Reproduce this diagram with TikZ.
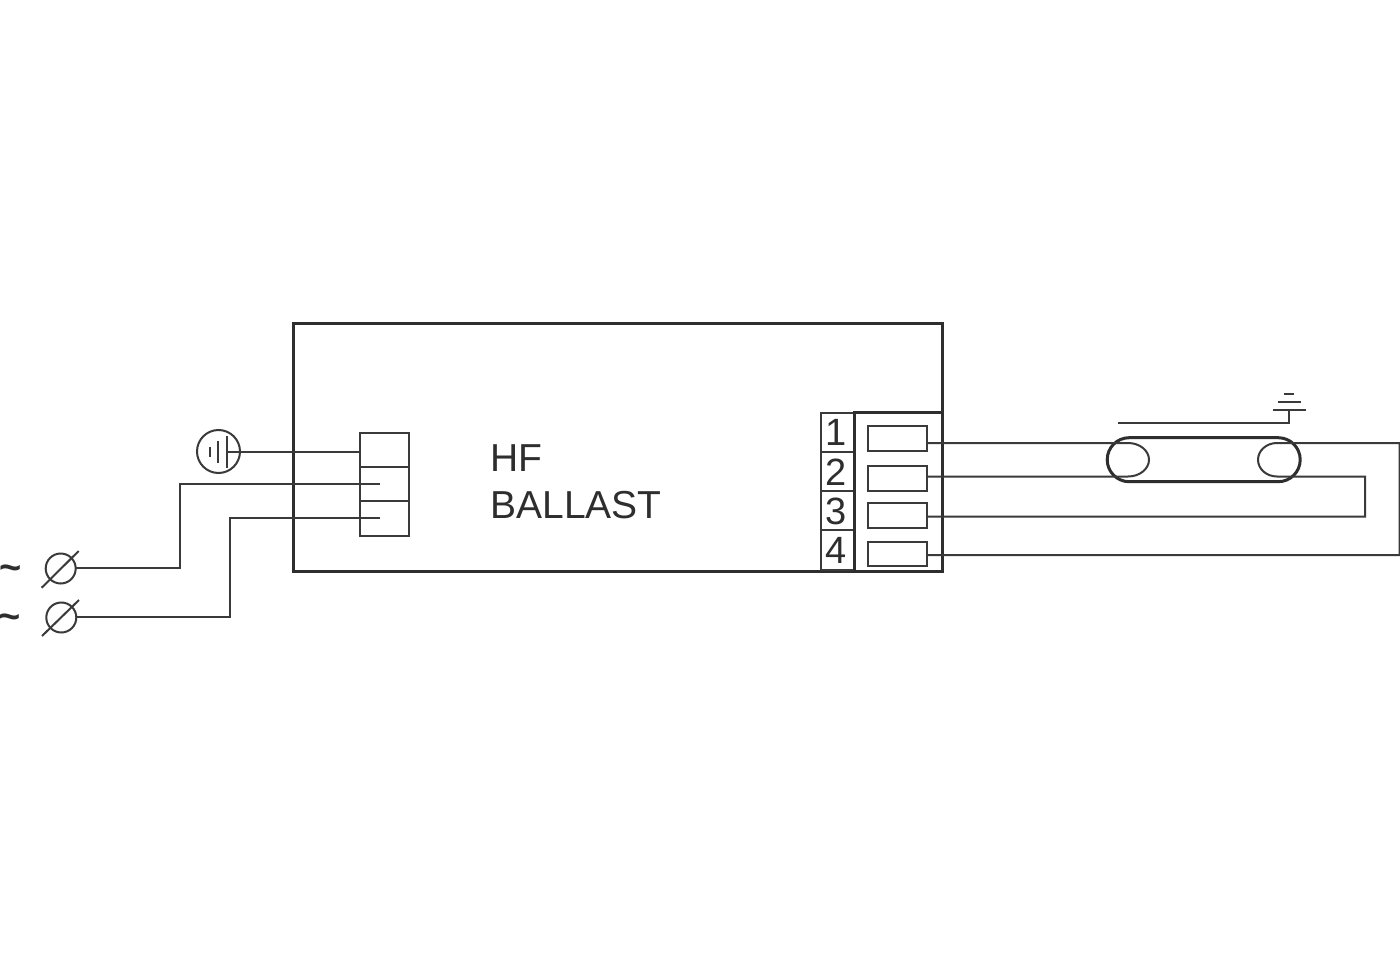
\documentclass[tikz,border=0pt]{standalone}
\usepackage{fontspec}
\setmainfont{Liberation Sans}
\definecolor{ink}{HTML}{3A3A3A}
\definecolor{heavy}{HTML}{2E2E2E}
\tikzset{
  box/.style={draw=ink,line width=2pt,rectangle,inner sep=0pt,outer sep=0pt},
  heavybox/.style={draw=heavy,line width=3pt,rectangle,inner sep=0pt,outer sep=0pt},
  wire/.style={draw=ink,line width=2pt,line join=miter},
  label/.style={text=heavy,inner sep=0pt,outer sep=0pt,anchor=base west,font=\fontsize{39}{39}\selectfont},
  digit/.style={text=heavy,inner sep=0pt,outer sep=0pt,anchor=center,font=\fontsize{38}{38}\selectfont},
  tildelabel/.style={text=heavy,inner sep=0pt,outer sep=0pt,anchor=center,font=\bfseries\fontsize{38}{38}\selectfont},
  round/.style={draw=ink,line width=2pt,circle,inner sep=0pt,outer sep=0pt},
}
\newcommand{\rbox}[6]{\node[#1,minimum width=#5pt-#3pt,minimum height=#6pt-#4pt] (#2) at ({(#3+#5)/2},{(#4+#6)/2}) {};}
\begin{document}
\begin{tikzpicture}[x=1pt,y=-1pt]
\useasboundingbox (0,0) rectangle (1400,960);
\fill[white] (0,0) rectangle (1400,960);

% ballast
\rbox{heavybox}{ballast}{293.5}{323.5}{942}{571}
\node[label] (hf) at (490.5,471) {HF};
\node[label] (bl) at (490.5,518) {BALLAST};

% mains block
\rbox{box}{ka}{360}{433}{409}{467}
\rbox{box}{kb}{360}{467}{409}{501}
\rbox{box}{kc}{360}{501}{409}{536}

% earth symbol
\node[round,minimum size=43pt] (earth) at (218.5,451.5) {};
\coordinate (eb1) at (226.5,436); \coordinate (eb2) at (226.5,467.5);
\coordinate (ec1) at (218,441);   \coordinate (ec2) at (218,463);
\coordinate (ed1) at (210,447);   \coordinate (ed2) at (210,457);
\coordinate (ein) at (226.5,451.7); \coordinate (eka) at (360,451.7);
\draw[wire] (eb1) -- (eb2);
\draw[wire] (ec1) -- (ec2);
\draw[wire] (ed1) -- (ed2);
\draw[wire] (ein) -- (eka);

% mains terminals
\node[round,minimum size=30pt] (la) at (60.7,568.5) {};
\node[round,minimum size=30pt] (lb) at (61.3,617.5) {};
\coordinate (sa1) at (41.7,587.7); \coordinate (sa2) at (78.7,551);
\coordinate (sb1) at (42,636);     \coordinate (sb2) at (79,600);
\draw[wire] (sa1) -- (sa2);
\draw[wire] (sb1) -- (sb2);
\node[tildelabel] (ta) at (11,573) {\textasciitilde};
\node[tildelabel] (tb) at (10,622) {\textasciitilde};
\coordinate (wa) at (380,484.3); \coordinate (wb) at (380,518.3);
\coordinate (ja) at (180,484.3); \coordinate (ka2) at (180,568.3);
\coordinate (jb) at (229.5,518.3); \coordinate (kb2) at (229.5,617.3);
\draw[wire] (wa) -- (ja) -- (ka2) -- (la.east |- ka2);
\draw[wire] (wb) -- (jb) -- (kb2) -- (lb.east |- kb2);

% output terminal block
\rbox{box}{n1}{821}{412.5}{854}{452}
\rbox{box}{n2}{821}{452}{854}{491}
\rbox{box}{n3}{821}{491}{854}{530}
\rbox{box}{n4}{821}{530}{854}{570}
\node[digit] (d1) at (836,432) {1};
\node[digit] (d2) at (836,472) {2};
\node[digit] (d3) at (836,511) {3};
\node[digit] (d4) at (836,550) {4};
\rbox{heavybox}{blk}{854}{412.5}{942}{571}
\rbox{box}{t1}{868}{425.5}{927}{450.5}
\rbox{box}{t2}{868}{466}{927}{491}
\rbox{box}{t3}{868}{503}{927}{527.5}
\rbox{box}{t4}{868}{542}{927}{566}

% lamp
\node[draw=heavy,line width=3pt,rectangle,rounded corners=22pt,inner sep=0pt,outer sep=0pt,minimum width=193pt,minimum height=44pt] (lamp) at (1203.7,459.7) {};
\coordinate (o1) at (927,443);   \coordinate (o2) at (927,476.5);
\coordinate (o3) at (927,516.7); \coordinate (o4) at (927,555);
\coordinate (fl1) at (1128,443); \coordinate (fl2) at (1128,476.5);
\coordinate (flm) at (1149,459.75);
\coordinate (fr1) at (1277,443); \coordinate (fr2) at (1277,476.5);
\coordinate (frm) at (1258,459.75);
\coordinate (rt) at (1399.5,443); \coordinate (rb) at (1399.5,555);
\coordinate (mt) at (1365,476.5); \coordinate (mb) at (1365,516.7);
\draw[wire] (o1) -- (fl1) .. controls (1139.6,443) and (1149,450.5) .. (flm) .. controls (1149,469) and (1139.6,476.5) .. (fl2) -- (o2);
\draw[wire] (o4) -- (rb) -- (rt) -- (fr1) .. controls (1266.5,443) and (1258,450.5) .. (frm) .. controls (1258,469) and (1266.5,476.5) .. (fr2) -- (mt) -- (mb) -- (o3);

% lamp earth
\coordinate (g0) at (1118,423); \coordinate (g1) at (1289,423); \coordinate (g2) at (1289,409.5);
\coordinate (h1) at (1273,409.5); \coordinate (h2) at (1306,409.5);
\coordinate (i1) at (1278,401.5); \coordinate (i2) at (1301,401.5);
\coordinate (j1) at (1284,393.5); \coordinate (j2) at (1294,393.5);
\draw[wire] (g0) -- (g1) -- (g2);
\draw[wire] (h1) -- (h2);
\draw[wire] (i1) -- (i2);
\draw[wire] (j1) -- (j2);
\end{tikzpicture}
\end{document}
